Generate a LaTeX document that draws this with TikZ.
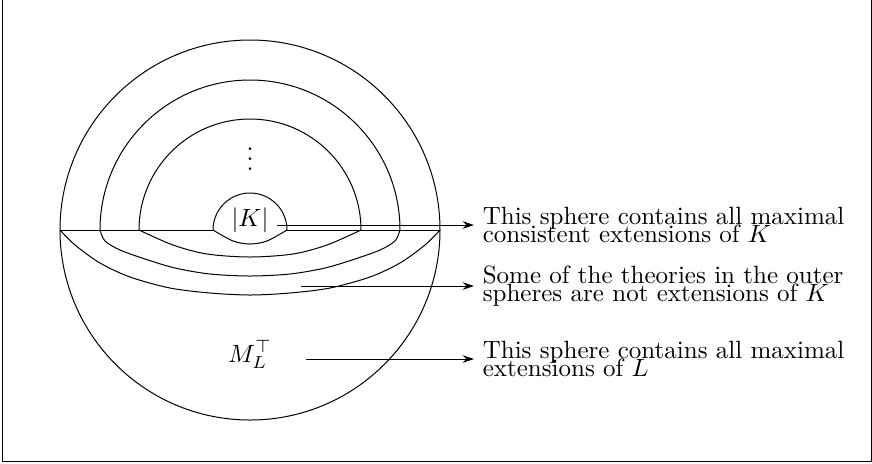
\documentclass[tikz,border=0pt]{standalone}
\usepackage{amsmath}
\usepackage{tikz}
\usetikzlibrary{arrows.meta, calc}
\tikzset{
  % Boundary of the picture
  frame/.style={line width=0.4pt},
  % Spheres and their boundaries
  sphere/.style={line width=0.4pt},
  % Explanations on the right
  note/.style={anchor=west, align=left, font=\normalsize},
  % Pointers
  arr/.style={-{Stealth[length=4.5pt, width=3pt]}, line width=0.4pt},
}

\begin{document}
\begin{tikzpicture}[x=0.4pt, y=0.4pt]
  \useasboundingbox (-250,-233) rectangle (622,230);
  \draw[frame] (-247,232) -- (-247,-231) -- (621,-231) -- (621,232);

  % outer sphere and horizon
  \draw[sphere] (0,0) circle[radius=190];
  \draw[sphere] (-190,0) -- (-37,0);
  \draw[sphere] (37,0) -- (190,0);

  % upper halves of the inner spheres
  \draw[sphere] (-150,0) arc[start angle=180, end angle=0, radius=150];
  \draw[sphere] (-111,0) arc[start angle=180, end angle=0, radius=111];
  \draw[sphere] (-37,0) arc[start angle=180, end angle=0, radius=37];

  % lower halves
  \draw[sphere] plot[smooth] coordinates {(-190,0) (-175,-15) (-150,-33)
    (-120,-47) (-80,-58) (-40,-63) (0,-65) (40,-63) (80,-58) (120,-47)
    (150,-33) (175,-15) (190,0)};
  \draw[sphere] plot[smooth] coordinates {(-150,0) (-145,-11) (-130,-20)
    (-105,-29) (-75,-38) (-40,-44) (0,-46) (40,-44) (75,-38) (105,-29)
    (130,-20) (145,-11) (150,0)};
  \draw[sphere] plot[smooth] coordinates {(-111,0) (-77,-15) (-43,-24)
    (0,-27) (43,-24) (77,-15) (111,0)};
  \draw[sphere] plot[smooth] coordinates {(-37,0) (-17,-11) (0,-14)
    (17,-11) (37,0)};

  \node (absK) at (0,10) {$|K|$};
  \node[anchor=base] (dots) at (0,60) {$\vdots$};
  \node[anchor=base] (ML) at (0,-132) {$M_L^{\top}$};

  \node[note] (note1) at (224,5)
    {This sphere contains all maximal\\[-5pt] consistent extensions of $K$};
  \node[note] (note2) at (224,-56)
    {Some of the theories in the outer\\[-5pt] spheres are not extensions of $K$};
  \node[note] (note3) at (224,-129)
    {This sphere contains all maximal\\[-5pt] extensions of $L$};

  \coordinate (from1) at (27,5);
  \coordinate (from2) at (51,-56);
  \coordinate (from3) at (56,-129);
  \draw[arr] (from1) -- (note1.west);
  \draw[arr] (from2) -- (note2.west);
  \draw[arr] (from3) -- (note3.west);
\end{tikzpicture}
\end{document}
